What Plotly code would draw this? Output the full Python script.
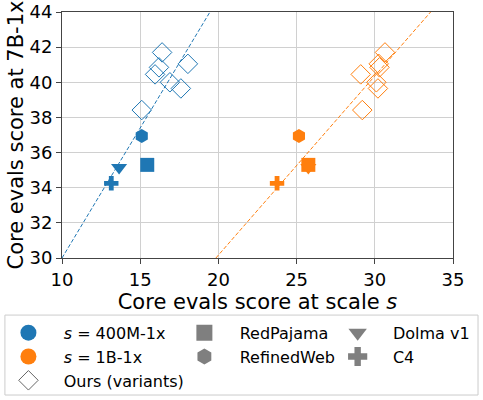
import plotly.graph_objects as go

BLUE = "#1f77b4"
ORANGE = "#ff7f0e"
GREY = "#7f7f7f"

# core evals at 7B-1x (y) for each dataset, and at the two small scales (x)
ours_7b = [41.7, 41.05, 40.85, 40.45, 40.0, 39.65, 38.42]
ours_400m = [16.4, 18.05, 16.2, 15.95, 16.9, 17.6, 15.1]
ours_1b = [30.65, 30.25, 30.3, 29.1, 30.1, 30.2, 29.2]

baselines = ["RedPajama", "RefinedWeb", "Dolma v1", "C4"]
base_symbols = ["square", "hexagon", "triangle-down", "cross"]
base_sizes = [14, 14, 14, 12]
base_legend = ["legend2", "legend2", "legend3", "legend3"]
base_7b = [35.3, 36.95, 35.15, 34.25]
base_400m = [15.45, 15.1, 13.65, 13.15]
base_1b = [25.75, 25.15, 25.75, 23.75]

# linear fits (end points)
fit_400m_x = [10.0, 19.46]
fit_400m_y = [30.0, 44.0]
fit_1b_x = [19.84, 33.57]
fit_1b_y = [30.0, 44.0]

fig = go.Figure()

for fx, fy, col in [(fit_400m_x, fit_400m_y, BLUE), (fit_1b_x, fit_1b_y, ORANGE)]:
    fig.add_trace(go.Scatter(x=fx, y=fy, mode="lines", showlegend=False,
                             line=dict(color=col, width=1, dash="4px,2px"),
                             hoverinfo="skip"))

for scale_x, ours_x, col in [(base_400m, ours_400m, BLUE), (base_1b, ours_1b, ORANGE)]:
    for i in range(len(baselines)):
        fig.add_trace(go.Scatter(x=[scale_x[i]], y=[base_7b[i]], mode="markers",
                                 showlegend=False,
                                 marker=dict(symbol=base_symbols[i], size=base_sizes[i],
                                             color=col, line_width=0)))
    fig.add_trace(go.Scatter(x=ours_x, y=ours_7b, mode="markers", showlegend=False,
                             marker=dict(symbol="diamond-open", size=15, color=col,
                                         line=dict(width=1, color=col))))


# legend-only entries, three legends standing in for matplotlib's columns
PAD = "\u00a0\u00a0\u00a0"


def leg(name, symbol, color, legend, size=18, line_col=None):
    m = dict(symbol=symbol, size=size, color=color)
    if line_col:
        m["line"] = dict(width=1, color=line_col)
    fig.add_trace(go.Scatter(x=[None], y=[None], mode="markers", name=PAD + name,
                             marker=m, legend=legend))


leg("<i>s</i> = 400M-1x", "circle", BLUE, "legend")
leg("<i>s</i> = 1B-1x", "circle", ORANGE, "legend")
leg("Ours (variants)", "diamond-open", "#666666", "legend", size=15, line_col="#666666")
for i in range(len(baselines)):
    leg(baselines[i], base_symbols[i], GREY, base_legend[i])

legend_style = dict(orientation="v", yanchor="top", y=-0.235, xanchor="left",
                    bgcolor="rgba(0,0,0,0)", borderwidth=0, font=dict(size=16),
                    itemsizing="trace", tracegroupgap=0)

fig.update_layout(
    width=483, height=400,
    margin=dict(l=62, r=30, t=12, b=142, autoexpand=False),
    plot_bgcolor="white", paper_bgcolor="white",
    font=dict(family="DejaVu Sans", color="black", size=18),
    showlegend=True,
    legend=dict(legend_style, x=-0.137),
    legend2=dict(legend_style, x=0.313),
    legend3=dict(legend_style, x=0.705),
    shapes=[dict(type="rect", xref="paper", yref="paper",
                 x0=-0.146, x1=1.064, y0=-0.557, y1=-0.232,
                 line=dict(color="#cccccc", width=1), layer="below")],
)
fig.update_xaxes(range=[10, 35], dtick=5, showgrid=True, gridcolor="#d0d0d0",
                 showline=True, linecolor="#444444", mirror=True, linewidth=1,
                 ticks="outside", ticklen=5, tickcolor="#444444", zeroline=False,
                 tickfont=dict(size=18), automargin=False,
                 title=dict(text="Core evals score at scale <i>s</i>", font=dict(size=21), standoff=0))
fig.update_yaxes(range=[30, 44], dtick=2, showgrid=True, gridcolor="#d0d0d0",
                 showline=True, linecolor="#444444", mirror=True, linewidth=1,
                 ticks="outside", ticklen=5, tickcolor="#444444", zeroline=False,
                 tickfont=dict(size=18), automargin=False,
                 title=dict(text="Core evals score at 7B-1x", font=dict(size=21), standoff=0))

# drop the browser's default 8px body margin so the figure sits at the page corner
fig.write_html("out.html", config={"displayModeBar": False},
               post_script="document.body.style.margin = '0px';")
